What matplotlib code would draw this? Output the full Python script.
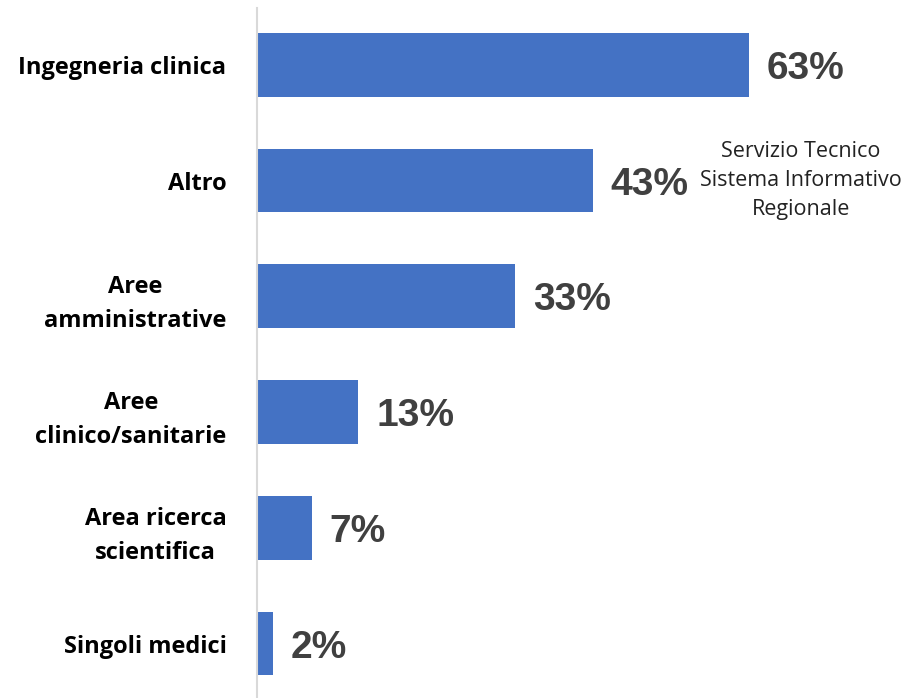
import numpy as np
import matplotlib.pyplot as plt

# Data
categories = ["Ingegneria clinica", "Altro", "Aree\namministrative",
              "Aree\nclinico/sanitarie", "Area ricerca\nscientifica", "Singoli medici"]
values = [63, 43, 33, 13, 7, 2]
note = "Servizio Tecnico\nSistema Informativo\nRegionale"

fig = plt.figure(figsize=(9.08, 6.98), dpi=100)
ax = fig.add_axes([257 / 908, 0, 1 - 257 / 908, 1 - 8 / 698])

y = np.arange(len(categories))
ax.barh(y, values, height=0.55, color="#4472C4")

ax.set_xlim(0, 83.4)
ax.set_ylim(5.47, -0.49)

ax.set_yticks(y)
ax.set_yticklabels(categories, fontsize=17, fontweight="bold",
                   family="Open Sans", color="black", linespacing=1.55)
for lbl in ax.get_yticklabels():
    lbl.set_multialignment("center")
ax.tick_params(axis="y", length=0, pad=22)
ax.set_xticks([])

for s in ["top", "right", "bottom"]:
    ax.spines[s].set_visible(False)
ax.spines["left"].set_color("#d9d9d9")
ax.spines["left"].set_linewidth(1.5)

for yi, v in zip(y, values):
    ax.annotate(f"{v}%", xy=(v, yi), xytext=(13, -3), textcoords="offset points",
                ha="left", va="center", fontsize=28, fontweight="bold",
                family="Liberation Sans", color="#404040")

ax.annotate(note, xy=(43, 1), xytext=(150, 0), textcoords="offset points",
            ha="center", va="center", fontsize=15.5, family="Open Sans",
            color="#222222", linespacing=1.5)

fig.savefig("out.png", dpi=100)
